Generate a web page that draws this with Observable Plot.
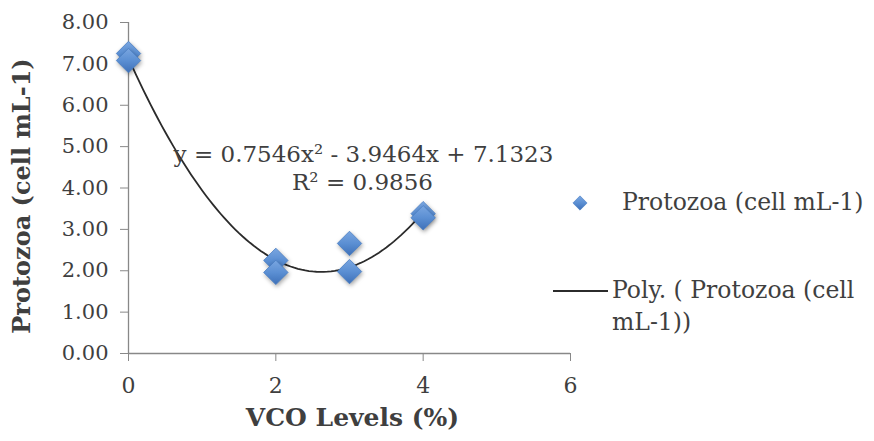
<!DOCTYPE html>
<html><head><meta charset="utf-8">
<script src="https://cdn.jsdelivr.net/npm/d3@7"></script>
<script src="https://cdn.jsdelivr.net/npm/@observablehq/plot@0.6"></script>
<style>
body{margin:0;background:#fff;}
#wrap{position:relative;width:874px;height:441px;font-family:"DejaVu Serif",serif;color:#3f3f3f;}
.pts path{filter:drop-shadow(1px 2px 2px rgba(0,0,0,0.35));}
.leg{position:absolute;font-size:23.5px;color:#3f3f3f;white-space:nowrap;line-height:32px;}
</style></head><body>
<div id="wrap"></div>
<script>
const vcoLevels = [0, 0, 2, 2, 3, 3, 4, 4];
const protozoa = [7.25, 7.08, 2.25, 1.96, 2.66, 1.98, 3.38, 3.28];
const trendCoefficients = [7.1323, -3.9464, 0.7546]; // c0 + c1 x + c2 x^2 (from chart equation)
const yTicks = [0, 1, 2, 3, 4, 5, 6, 7, 8];
const xTicks = [0, 2, 4, 6];
const equationText = "y = 0.7546x² - 3.9464x + 7.1323";
const r2Text = "R² = 0.9856";
const seriesName = "Protozoa (cell mL-1)";
const trendName = ["Poly. ( Protozoa (cell", "mL-1))"];

const points = vcoLevels.map((x, i) => ({x, y: protozoa[i]}));
const xMin = d3.min(vcoLevels), xMax = d3.max(vcoLevels);
const curve = d3.range(0, 81).map(i => {
  const x = xMin + (xMax - xMin) * i / 80;
  return {x, y: trendCoefficients[0] + trendCoefficients[1] * x + trendCoefficients[2] * x * x};
});

const axisColor = "#888";
const chart = Plot.plot({
  width: 874, height: 441,
  marginLeft: 128, marginRight: 304, marginTop: 22, marginBottom: 88,
  style: {fontFamily: "DejaVu Serif, serif", fontSize: "20px", color: "#3f3f3f", background: "#fff"},
  x: {domain: [0, 6], label: null},
  y: {domain: [0, 8], label: null},
  marks: [
    Plot.ruleX([0], {stroke: axisColor, strokeWidth: 1.3}),
    Plot.ruleY([0], {stroke: axisColor, strokeWidth: 1.3}),
    Plot.axisY(yTicks, {tickFormat: d => d.toFixed(2), tickSize: 8, tickPadding: 12, stroke: axisColor, fill: "#3f3f3f", fontSize: 21, label: null}),
    Plot.axisX(xTicks, {tickFormat: d => String(d), tickSize: 8, tickPadding: 16, stroke: axisColor, fill: "#3f3f3f", fontSize: 22, label: null}),
    Plot.line(curve, {x: "x", y: "y", stroke: "#2b2b2b", strokeWidth: 1.8, curve: "linear"}),
    Plot.dot(points, {x: "x", y: "y", symbol: "diamond2", r: 11, fill: "url(#diamGrad)", stroke: "#4a7fc4", strokeWidth: 0.8, className: "pts"}),
    Plot.text([equationText], {frameAnchor: "top-left", dx: 235, dy: 123, text: d => d, fontSize: 23, fill: "#3f3f3f", textAnchor: "middle"}),
    Plot.text([r2Text], {frameAnchor: "top-left", dx: 234, dy: 151, text: d => d, fontSize: 23, fill: "#3f3f3f", textAnchor: "middle"}),
    Plot.text(["Protozoa (cell mL-1)"], {frameAnchor: "left", dx: -106, dy: 8, text: d => d, rotate: -90, textAnchor: "middle", fontSize: 24, fontWeight: "bold", fill: "#3f3f3f"}),
    Plot.text(["VCO Levels (%)"], {frameAnchor: "bottom", dx: 3, dy: 72, text: d => d, fontSize: 25, fontWeight: "bold", fill: "#3f3f3f"})
  ]
});
const ns = "http://www.w3.org/2000/svg";
const defs = document.createElementNS(ns, "defs");
defs.innerHTML = '<linearGradient id="diamGrad" x1="0" y1="0" x2="0" y2="1"><stop offset="0" stop-color="#7aa6e0"/><stop offset="0.5" stop-color="#5b8fd3"/><stop offset="1" stop-color="#3e70b8"/></linearGradient>';
chart.insertBefore(defs, chart.firstChild);
const wrap = document.getElementById("wrap");
wrap.appendChild(chart);

// legend
const leg = d3.select(wrap);
const legSvg = leg.append("svg").attr("width", 874).attr("height", 441)
  .style("position", "absolute").style("left", 0).style("top", 0).style("pointer-events", "none");
legSvg.append("path").attr("d", d3.symbol(d3.symbolDiamond2, 130)()).attr("transform", "translate(580,203)")
  .attr("fill", "url(#diamGrad)").attr("stroke", "#4a7fc4").attr("stroke-width", 0.6);
legSvg.append("line").attr("x1", 553).attr("x2", 608).attr("y1", 291).attr("y2", 291).attr("stroke", "#2b2b2b").attr("stroke-width", 1.8);
leg.append("div").attr("class", "leg").style("left", "622px").style("top", "186px").text(seriesName);
leg.append("div").attr("class", "leg").style("left", "612px").style("top", "274px").html(trendName[0] + "<br>" + trendName[1]);
</script>
</body></html>
